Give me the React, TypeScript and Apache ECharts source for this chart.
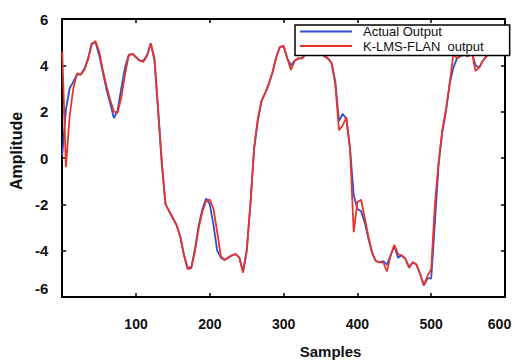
import React, { useEffect, useRef } from "react";
import * as echarts from "echarts";

const samples: number[] = [
  0, 5, 10, 15, 20, 25, 30, 35, 40, 45, 50, 55, 60, 65, 70, 75, 80, 85, 90, 95,
  100, 105, 110, 115, 120, 125, 130, 135, 140, 145, 150, 155, 160, 165, 170, 175, 180, 185, 190, 195,
  200, 205, 210, 215, 220, 225, 230, 235, 240, 245, 250, 255, 260, 265, 270, 275, 280, 285, 290, 295,
  300, 305, 310, 315, 320, 325, 330, 335, 340, 345, 350, 355, 360, 365, 370, 375, 380, 385, 390, 395,
  400, 405, 410, 415, 420, 425, 430, 435, 440, 445, 450, 455, 460, 465, 470, 475, 480, 485, 490, 495,
  500, 505, 510, 515, 520, 525, 530, 535, 540, 545, 550, 555, 560, 565, 570, 575, 580, 585, 590, 595, 600,
];

const actualOutput: number[] = [
  0.1, 2.1, 3.0, 3.3, 3.6, 3.6, 3.85, 4.3, 4.95, 5.0, 4.45, 3.7, 2.95, 2.35, 1.72, 2.05, 3.0, 3.9, 4.45, 4.5,
  4.35, 4.2, 4.2, 4.45, 4.95, 4.2, 2.0, -0.3, -2.0, -2.3, -2.6, -2.9, -3.4, -4.2, -4.75, -4.7, -3.9, -2.9, -2.2, -1.75,
  -2.0, -2.9, -4.0, -4.3, -4.4, -4.3, -4.2, -4.15, -4.3, -4.9, -4.0, -2.0, 0.4, 1.6, 2.45, 2.8, 3.2, 3.7, 4.35, 4.8,
  4.8, 4.3, 4.0, 4.2, 4.3, 4.3, 4.5, 4.7, 4.8, 4.7, 4.6, 4.4, 4.3, 4.1, 3.3, 1.6, 1.9, 1.7, 0.4, -1.6,
  -2.2, -2.3, -2.8, -3.5, -4.1, -4.45, -4.5, -4.45, -4.6, -4.2, -3.8, -4.3, -4.2, -4.35, -4.7, -4.5, -4.6, -5.0, -5.5, -5.2,
  -5.2, -2.8, -0.3, 1.1, 2.0, 3.2, 3.9, 4.3, 4.4, 4.45, 4.4, 4.55, 4.0, 3.9, 4.2, 4.4, 4.5, 4.6, 4.7, 4.7, 4.7,
];

const klmsFlanOutput: number[] = [
  4.6, -0.4, 1.8, 3.0, 3.65, 3.6, 3.8, 4.25, 4.9, 5.05, 4.6, 3.8, 3.1, 2.5, 2.0, 1.95, 2.6, 3.6, 4.4, 4.5,
  4.35, 4.2, 4.15, 4.4, 4.95, 4.3, 2.1, -0.2, -2.0, -2.3, -2.6, -2.9, -3.4, -4.2, -4.8, -4.75, -4.0, -3.0, -2.3, -1.85,
  -1.8, -2.2, -3.2, -4.25, -4.4, -4.3, -4.2, -4.15, -4.3, -4.95, -4.0, -2.0, 0.4, 1.7, 2.45, 2.8, 3.2, 3.7, 4.35, 4.8,
  4.85, 4.3, 3.8, 4.2, 4.3, 4.3, 4.5, 4.7, 4.8, 4.7, 4.6, 4.4, 4.3, 4.1, 3.2, 1.2, 1.4, 1.75, 0.4, -3.2,
  -1.9, -1.8, -2.6, -3.4, -4.1, -4.45, -4.5, -4.5, -4.9, -4.2, -3.75, -4.15, -4.2, -4.35, -4.75, -4.5, -4.6, -5.0, -5.5, -5.1,
  -4.8, -2.0, -0.2, 1.2, 2.1, 3.2, 4.5, 4.3, 4.45, 4.45, 4.4, 4.6, 3.75, 3.9, 4.2, 4.4, 4.5, 4.6, 4.7, 4.75, 4.7,
];

const seriesNames: string[] = ["Actual Output", "K-LMS-FLAN  output"];

const FONT = "'Liberation Sans', Arial, sans-serif";

export default function App() {
  const ref = useRef<HTMLDivElement>(null);

  useEffect(() => {
    if (!ref.current) return;
    const chart = echarts.init(ref.current, null, { renderer: "svg" });
    const axisLine = { show: true, onZero: false, lineStyle: { color: "#000", width: 2 } };
    const tick = { show: true, inside: true, length: 4, lineStyle: { color: "#000", width: 1.5 } };
    const labelFont = { fontFamily: FONT, fontWeight: "bold", color: "#111" };
    chart.setOption({
      animation: false,
      backgroundColor: "#fff",
      grid: { left: 62, right: 10, top: 19, bottom: 67, containLabel: false },
      legend: {
        data: seriesNames,
        orient: "vertical",
        left: 295,
        top: 25,
        itemWidth: 52,
        itemHeight: 14,
        itemGap: 1.5,
        icon: "path://M0,0 H52 V2 H0 Z",
        padding: [0, 26, 3, 5],
        backgroundColor: "#fff",
        borderColor: "#000",
        borderWidth: 1.5,
        borderRadius: 0,
        textStyle: { fontFamily: FONT, fontSize: 13, color: "#111", padding: [0, 0, 0, 6] },
      },
      xAxis: [
        {
          type: "value",
          min: 0,
          max: 600,
          interval: 100,
          position: "bottom",
          name: "Samples",
          nameLocation: "middle",
          nameGap: 47,
          nameTextStyle: { ...labelFont, fontSize: 15, padding: [0, 0, 0, 94] },
          axisLine,
          axisTick: tick,
          splitLine: { show: false },
          axisLabel: {
            ...labelFont,
            margin: 20,
            fontSize: 14,
            formatter: (v: number) => (v === 0 ? "" : v === 600 ? "{r|600}" : String(v)),
            rich: { r: { ...labelFont, fontSize: 14, padding: [0, 11, 8, 0] } },
          },
        },
        {
          type: "value",
          min: 0,
          max: 600,
          interval: 100,
          position: "top",
          axisLine,
          axisTick: tick,
          splitLine: { show: false },
          axisLabel: { show: false },
        },
      ],
      yAxis: [
        {
          type: "value",
          min: -6,
          max: 6,
          interval: 2,
          position: "left",
          name: "Amplitude",
          nameLocation: "middle",
          nameRotate: 90,
          nameGap: 36,
          nameTextStyle: { ...labelFont, fontSize: 16, padding: [0, 0, 0, 14] },
          axisLine,
          axisTick: tick,
          splitLine: { show: false },
          axisLabel: {
            ...labelFont,
            margin: 14,
            fontSize: 15,
            formatter: (v: number) => (v === -6 ? "{r|-6}" : String(v)),
            rich: { r: { ...labelFont, fontSize: 15, padding: [0, 0, 18, 0] } },
          },
        },
        {
          type: "value",
          min: -6,
          max: 6,
          interval: 2,
          position: "right",
          axisLine,
          axisTick: tick,
          splitLine: { show: false },
          axisLabel: { show: false },
        },
      ],
      series: [
        {
          name: seriesNames[0],
          type: "line",
          xAxisIndex: 0,
          yAxisIndex: 0,
          symbol: "none",
          data: samples.map((s, i) => [s, actualOutput[i]]),
          lineStyle: { color: "#2f4fd0", width: 1.8 },
          itemStyle: { color: "#2f4fd0" },
          z: 2,
        },
        {
          name: seriesNames[1],
          type: "line",
          xAxisIndex: 0,
          yAxisIndex: 0,
          symbol: "none",
          data: samples.map((s, i) => [s, klmsFlanOutput[i]]),
          lineStyle: { color: "#e8352b", width: 1.8 },
          itemStyle: { color: "#e8352b" },
          z: 3,
        },
      ],
    });
    return () => chart.dispose();
  }, []);

  return (
    <div
      ref={ref}
      style={{ position: "fixed", left: 0, top: 0, width: 515, height: 364, background: "#fff" }}
    />
  );
}
